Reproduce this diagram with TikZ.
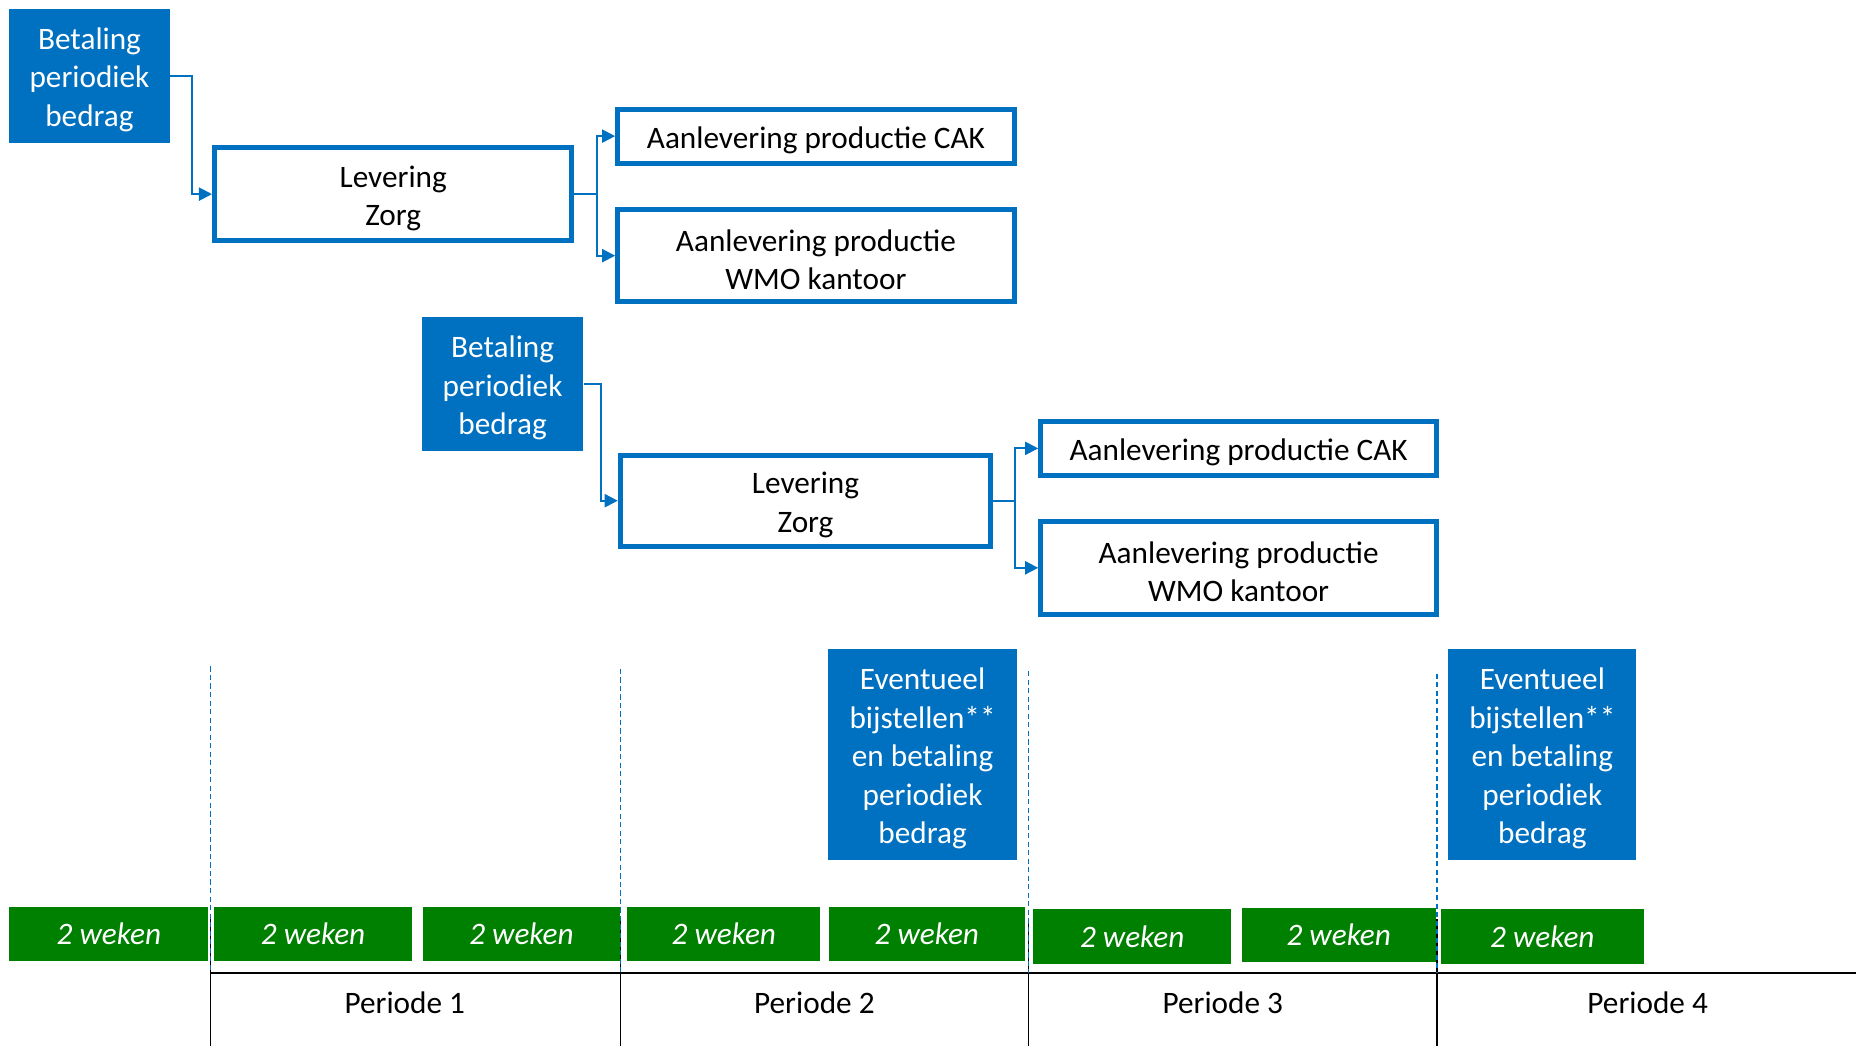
\documentclass[tikz,border=0pt]{standalone}
\usepackage{fontspec}
\setmainfont{Carlito}
\usetikzlibrary{arrows.meta,positioning}

\definecolor{vgblue}{HTML}{0070C0}
\definecolor{vggreen}{HTML}{008000}
\newcommand{\boxfont}{\fontsize{13.2pt}{16.25pt}\selectfont}
\newcommand{\topstrut}{\rule{0pt}{12.6pt}}

\begin{document}
\begin{tikzpicture}[x=0.5pt,y=-0.5pt,
  paybox/.style={fill=vgblue,text=white,inner sep=0pt,align=center,font=\boxfont},
  taskbox/.style={draw=vgblue,line width=2.1pt,fill=white,inner sep=0pt,align=center,font=\boxfont},
  weekbar/.style={fill=vggreen,text=white,inner sep=0pt,minimum height=23pt,font=\boxfont\itshape},
  periodlabel/.style={inner sep=0pt,font=\boxfont},
  flow/.style={draw=vgblue,line width=0.85pt,-{Triangle[length=5.5pt,width=5.5pt]}},
  marker/.style={draw=vgblue,line width=0.55pt,dash pattern=on 2.2pt off 1.4pt}]
\useasboundingbox (0,0) rectangle (1568,884);
% eerste periode
\node [paybox,minimum width=68pt,minimum height=56.5pt] (bet1) at (75.6,64) {\topstrut Betaling\\periodiek\\bedrag};
\node [taskbox,minimum width=151pt,minimum height=39pt] (lev1) at (332.2,164) {\topstrut Levering\\Zorg};
\node [taskbox,minimum width=167.5pt,minimum height=22.8pt] (cak1) at (689.3,115) {\topstrut Aanlevering productie CAK};
\node [taskbox,minimum width=167.5pt,minimum height=39pt] (wmo1) at (689.3,216) {\topstrut Aanlevering productie\\WMO kantoor};
\draw [flow] (bet1.east) -- ++(18.5,0) |- (lev1.west);
\draw [flow] (lev1.east) -- ++(19,0) coordinate (fork1) |- (cak1.west);
\draw [flow] (fork1) |- (wmo1.west);
% tweede periode
\node [paybox,minimum width=68pt,minimum height=56.3pt] (bet2) at (424.6,324.4) {\topstrut Betaling\\periodiek\\bedrag};
\node [taskbox,minimum width=156.5pt,minimum height=38.5pt] (lev2) at (680.5,423) {\topstrut Levering\\Zorg};
\node [taskbox,minimum width=167.2pt,minimum height=22.6pt] (cak2) at (1046.4,378.8) {\topstrut Aanlevering productie CAK};
\node [taskbox,minimum width=167.2pt,minimum height=39.1pt] (wmo2) at (1046.4,479.7) {\topstrut Aanlevering productie\\WMO kantoor};
\draw [flow] (bet2.east) -- ++(15,0) |- (lev2.west);
\draw [flow] (lev2.east) -- ++(18.5,0) coordinate (fork2) |- (cak2.west);
\draw [flow] (fork2) |- (wmo2.west);
% bijstellen
\node [paybox,minimum width=79.5pt,minimum height=89pt] (ev1) at (779.4,637.4) {\topstrut Eventueel\\bijstellen**\\en betaling\\periodiek\\bedrag};
\node [paybox,minimum width=79.5pt,minimum height=89pt] (ev2) at (1303,637.4) {\topstrut Eventueel\\bijstellen**\\en betaling\\periodiek\\bedrag};
% weken
\node [weekbar,minimum width=84pt] (wk1) at (92,789) {2 weken};
\node [weekbar,minimum width=83.5pt] (wk2) at (264.5,789) {2 weken};
\node [weekbar,minimum width=83.5pt] (wk3) at (440.5,789) {2 weken};
\node [weekbar,minimum width=81.5pt] (wk4) at (611.5,789) {2 weken};
\node [weekbar,minimum width=83pt] (wk5) at (783,789) {2 weken};
\node [weekbar,minimum width=83.5pt] (wk6) at (956.5,791) {2 weken};
\node [weekbar,minimum width=82pt] (wk7) at (1131,790) {2 weken};
\node [weekbar,minimum width=86pt] (wk8) at (1303,791) {2 weken};
% tijdas
\draw [black,line width=0.6pt] (178,822) -- (1568,822);
\draw [black,line width=0.6pt] (178,776) -- (178,884);
\draw [black,line width=0.6pt] (524,776) -- (524,884);
\draw [black,line width=0.6pt] (869,776) -- (869,884);
\draw [black,line width=0.6pt] (1214,776) -- (1214,884);
\draw [marker] (178,563) -- (178,822);
\draw [marker] (524,565) -- (524,822);
\draw [marker] (869,567) -- (869,822);
\draw [marker] (1214,569) -- (1214,822);
\node [periodlabel] (p1) at (342,847) {Periode 1};
\node [periodlabel] (p2) at (688,847) {Periode 2};
\node [periodlabel] (p3) at (1033,847) {Periode 3};
\node [periodlabel] (p4) at (1392,847) {Periode 4};
\end{tikzpicture}
\end{document}
